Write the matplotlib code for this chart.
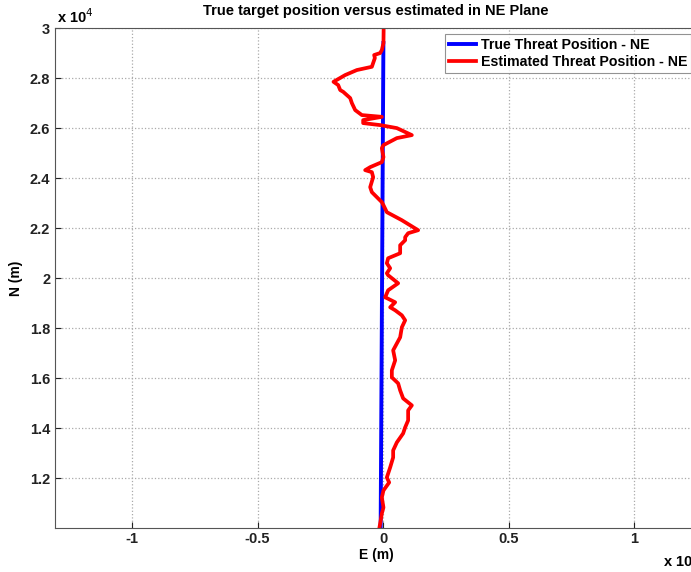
import numpy as np
import matplotlib.pyplot as plt
from matplotlib.ticker import FuncFormatter

plt.rcParams['font.family'] = ['Liberation Sans', 'DejaVu Sans']

# true threat position (m)
true_e = [-100, 10]
true_n = [10000, 29400]

# estimated threat position (m), bottom to top
est_e = [-147, -52, 12, -52, 12, 239, 147, 279, 398, 398, 545, 796, 876, 995,
         995, 1142, 796, 677, 597, 346, 346, 478, 398, 677, 744, 876, 744,
         478, 279, 478, 80, 199, 597, 199, 147, 279, 147, 199, 677, 677, 876,
         876, 995, 1393, 744, 147, 12, -52, -450, -517, -398, -450, -716,
         -517, -52, 12, -52, 12, 545, 1142, 545, -119, -796, -796, -52, -848,
         -1114, -1246, -1313, -1592, -1711, -1791, -1978, -1512, -1047, -450,
         -330, -358, -119, -52, 12, 20]
est_n = [10040, 10600, 10840, 11240, 11520, 11840, 12040, 12440, 12840, 13120,
         13440, 13800, 14040, 14320, 14720, 14920, 15200, 15520, 15800, 16040,
         16320, 16720, 17120, 17640, 18040, 18320, 18520, 18720, 18840, 19040,
         19240, 19520, 19800, 20120, 20200, 20400, 20600, 20800, 21000, 21320,
         21520, 21640, 21800, 21920, 22320, 22640, 22920, 23040, 23440, 23640,
         24040, 24240, 24320, 24440, 24640, 24840, 25200, 25320, 25600, 25720,
         26000, 26120, 26200, 26320, 26450, 26520, 26720, 27000, 27200, 27450,
         27520, 27720, 27850, 28120, 28320, 28450, 28800, 28920, 29000, 29120,
         29400, 30000]

x_ticks = [-10000, -5000, 0, 5000, 10000]
y_ticks = [12000, 14000, 16000, 18000, 20000, 22000, 24000, 26000, 28000, 30000]

fig = plt.figure(figsize=(6.91, 5.72), dpi=100)
ax = fig.add_axes([55/691, 44/572, 642/691, 500/572])

ax.plot(true_e, true_n, color='#0000ff', lw=2.8, label='True Threat Position - NE')
ax.plot(est_e, est_n, color='#ff0000', lw=2.7, label='Estimated Threat Position - NE')

ax.set_xlim(-13070, 12500)
ax.set_ylim(10020, 30000)
ax.set_xticks(x_ticks)
ax.set_yticks(y_ticks)
ax.xaxis.set_major_formatter(FuncFormatter(lambda v, p: '%g' % (v/1e4)))
ax.yaxis.set_major_formatter(FuncFormatter(lambda v, p: '%g' % (v/1e4)))
ax.tick_params(direction='in', length=4, labelsize=10.5, colors='#222222')
for lab in ax.get_xticklabels() + ax.get_yticklabels():
    lab.set_fontweight('bold')
ax.tick_params(axis='x', pad=3)
for s in ax.spines.values():
    s.set_color('#555555')
ax.grid(True, linestyle=':', color='#aaaaaa', lw=0.9)

ax.set_xlabel('E (m)', fontsize=10, fontweight='bold', labelpad=1)
ax.set_ylabel('N (m)', fontsize=10, fontweight='bold', labelpad=5)
ax.set_title('True target position versus estimated in NE Plane', fontsize=10.5,
             fontweight='bold', pad=9)
fig.text(57/691, 1 - 17/572, r'x 10$^{4}$', fontsize=10.5, fontweight='bold', va='center')
fig.text(663/691, 1 - 561/572, r'x 10$^{4}$', fontsize=10.5, fontweight='bold', va='center')

leg = ax.legend(loc='upper right', prop={'weight': 'bold', 'size': 10.2},
                fancybox=False, edgecolor='#777777', handlelength=1.9,
                borderpad=0.3, labelspacing=0.2, handletextpad=0.3,
                borderaxespad=0.4)
leg.get_frame().set_linewidth(0.8)

fig.savefig('out.png', dpi=100)
